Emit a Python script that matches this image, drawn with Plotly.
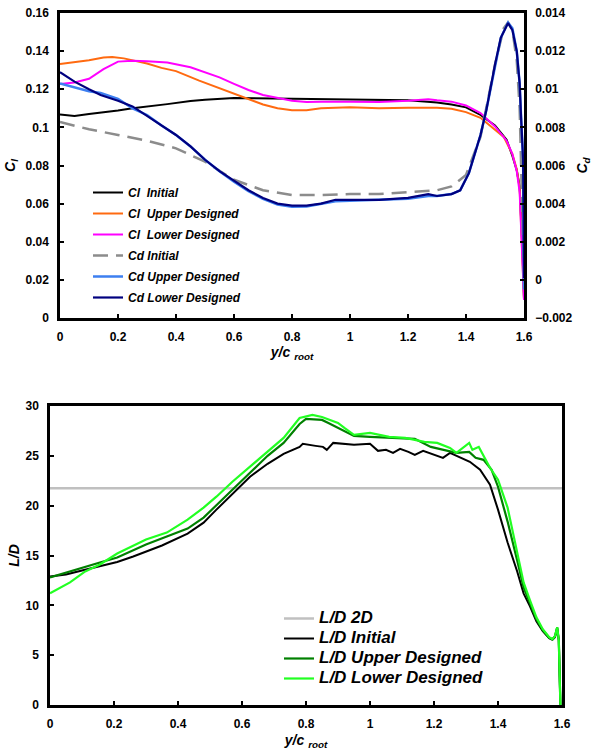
import plotly.graph_objects as go

# ---------------- spanwise lift / drag coefficients ----------------
cl_init_x = [0, 0.05, 0.1, 0.15, 0.2, 0.25, 0.3, 0.37, 0.45, 0.5, 0.6, 0.7, 0.8, 0.9, 1.0, 1.1, 1.2, 1.3,
             1.35, 1.4, 1.45, 1.5, 1.54, 1.56, 1.575, 1.585, 1.59, 1.595, 1.6]
cl_init = [0.1068, 0.1060, 0.1070, 0.1078, 0.1088, 0.1100, 0.1108, 0.1122, 0.1138, 0.1145, 0.1154, 0.1152,
           0.1150, 0.1148, 0.1147, 0.1145, 0.1142, 0.1130, 0.1120, 0.1105, 0.1065, 0.1010, 0.0935, 0.0850,
           0.0775, 0.0690, 0.0550, 0.0350, 0.0100]

cl_upper_x = [0, 0.05, 0.1, 0.15, 0.18, 0.22, 0.3, 0.35, 0.4, 0.48, 0.55, 0.6, 0.65, 0.7, 0.75, 0.8, 0.85,
              0.9, 1.0, 1.1, 1.2, 1.3, 1.35, 1.4, 1.45, 1.5, 1.53, 1.56, 1.575, 1.585, 1.59, 1.595, 1.6]
cl_upper = [0.1332, 0.1340, 0.1352, 0.1366, 0.1369, 0.1362, 0.1335, 0.1312, 0.1295, 0.1245, 0.1205, 0.1175,
            0.1145, 0.1120, 0.1100, 0.1090, 0.1090, 0.1100, 0.1105, 0.1100, 0.1103, 0.1103, 0.1098, 0.1080,
            0.1050, 0.0990, 0.0950, 0.0860, 0.0780, 0.0680, 0.0500, 0.0300, 0.0100]

cl_lower_x = [0, 0.05, 0.1, 0.15, 0.2, 0.25, 0.3, 0.37, 0.45, 0.5, 0.55, 0.6, 0.65, 0.7, 0.75, 0.8, 0.85,
              0.9, 1.0, 1.1, 1.2, 1.27, 1.3, 1.35, 1.4, 1.45, 1.5, 1.54, 1.56, 1.575, 1.585, 1.59, 1.595, 1.6]
cl_lower = [0.1227, 0.1235, 0.1255, 0.1305, 0.1345, 0.1350, 0.1347, 0.1340, 0.1315, 0.1290, 0.1262, 0.1228,
            0.1196, 0.1170, 0.1155, 0.1140, 0.1133, 0.1135, 0.1135, 0.1133, 0.1140, 0.1148, 0.1142, 0.1135,
            0.1115, 0.1075, 0.1005, 0.0930, 0.0860, 0.0770, 0.0660, 0.0450, 0.0250, 0.0094]

cd_init_x = [0, 0.05, 0.1, 0.2, 0.3, 0.4, 0.5, 0.6, 0.7, 0.8, 0.9, 1.0, 1.1, 1.2, 1.3, 1.35, 1.4, 1.45,
             1.5, 1.53, 1.545, 1.56, 1.575, 1.585, 1.59, 1.6]
cd_init = [0.00828, 0.00810, 0.00790, 0.00760, 0.00730, 0.00690, 0.00620, 0.00525, 0.00470, 0.00445,
           0.00445, 0.00450, 0.00450, 0.00460, 0.00470, 0.00490, 0.00550, 0.00750, 0.01130, 0.01320,
           0.01350, 0.01310, 0.01150, 0.00900, 0.00600, 0.00000]

cd_x = [0, 0.05, 0.1, 0.14, 0.2, 0.25, 0.3, 0.35, 0.4, 0.45, 0.5, 0.55, 0.6, 0.65, 0.7, 0.75, 0.8, 0.85,
        0.9, 0.95, 1.0, 1.1, 1.2, 1.27, 1.3, 1.35, 1.38, 1.41, 1.45, 1.47, 1.5, 1.52, 1.545, 1.56, 1.575,
        1.585, 1.59, 1.597, 1.6]
cd_upper = [0.01030, 0.01010, 0.00990, 0.00980, 0.00950, 0.00900, 0.00865, 0.00810, 0.00760, 0.00700,
            0.00630, 0.00570, 0.00515, 0.00465, 0.00425, 0.00395, 0.00383, 0.00385, 0.00398, 0.00412,
            0.00415, 0.00418, 0.00425, 0.00440, 0.00440, 0.00450, 0.00470, 0.00560, 0.00760, 0.00890,
            0.01130, 0.01270, 0.01350, 0.01320, 0.01200, 0.01030, 0.00850, 0.00630, -0.00050]
cd_lower = [0.01090, 0.01040, 0.01000, 0.00970, 0.00940, 0.00910, 0.00860, 0.00810, 0.00760, 0.00700,
            0.00630, 0.00570, 0.00520, 0.00470, 0.00430, 0.00400, 0.00390, 0.00390, 0.00400, 0.00420,
            0.00420, 0.00420, 0.00430, 0.00450, 0.00440, 0.00450, 0.00470, 0.00560, 0.00760, 0.00890,
            0.01130, 0.01270, 0.01347, 0.01310, 0.01200, 0.01030, 0.00850, 0.00630, 0.00010]

# ---------------- spanwise lift-to-drag ratio ----------------
ld_2d_x = [0, 1.6]
ld_2d = [21.75, 21.75]

ld_init_x = [0, 0.05, 0.1, 0.156, 0.21, 0.26, 0.3, 0.35, 0.43, 0.48, 0.52, 0.57, 0.625, 0.68, 0.73, 0.78,
             0.79, 0.83, 0.853, 0.865, 0.885, 0.95, 1.0, 1.025, 1.05, 1.072, 1.094, 1.12, 1.14, 1.166, 1.2,
             1.228, 1.25, 1.28, 1.312, 1.344, 1.375, 1.4, 1.43, 1.46, 1.48, 1.5, 1.52, 1.54, 1.56, 1.57,
             1.578, 1.585, 1.59, 1.595]
ld_init = [12.9, 13.1, 13.5, 13.95, 14.35, 14.9, 15.4, 16.0, 17.2, 18.3, 19.6, 21.2, 22.9, 24.2, 25.2, 25.9,
           26.2, 26.0, 25.9, 25.6, 26.3, 26.1, 26.2, 25.5, 25.6, 25.3, 25.7, 25.4, 25.1, 25.5, 25.1,
           24.8, 25.3, 24.9, 24.4, 23.6, 22.1, 19.6, 16.3, 13.4, 11.2, 9.9, 8.4, 7.4, 6.7, 6.55,
           6.8, 7.7, 6.5, 0.0]

ld_upper_x = [0, 0.05, 0.1, 0.156, 0.21, 0.3, 0.365, 0.43, 0.48, 0.52, 0.57, 0.625, 0.68, 0.73, 0.78, 0.8,
              0.83, 0.85, 0.87, 0.9, 0.95, 1.0, 1.06, 1.1, 1.14, 1.19, 1.23, 1.27, 1.31, 1.33, 1.355, 1.38,
              1.4, 1.43, 1.46, 1.48, 1.5, 1.52, 1.54, 1.56, 1.57, 1.578, 1.585, 1.59, 1.595]
ld_upper = [12.8, 13.3, 13.8, 14.3, 14.8, 16.1, 16.9, 17.7, 18.8, 20.0, 21.6, 23.3, 25.0, 26.3, 28.2, 28.7,
            28.6, 28.6, 28.3, 27.8, 27.0, 26.9, 26.8, 26.8, 26.7, 25.9, 25.6, 25.3, 25.4, 24.8, 24.6, 23.6,
            21.9, 18.4, 14.5, 11.8, 10.2, 8.6, 7.5, 6.75, 6.6, 6.9, 7.8, 6.5, 0.0]

ld_lower_x = [0, 0.0625, 0.11, 0.156, 0.21, 0.3, 0.365, 0.43, 0.48, 0.52, 0.57, 0.625, 0.68, 0.73, 0.78,
              0.82, 0.85, 0.9, 0.92, 0.95, 1.0, 1.06, 1.11, 1.17, 1.21, 1.25, 1.27, 1.31, 1.32, 1.34, 1.375,
              1.4, 1.43, 1.46, 1.48, 1.5, 1.52, 1.54, 1.56, 1.57, 1.578, 1.585, 1.59, 1.595]
ld_lower = [11.2, 12.3, 13.4, 14.1, 15.2, 16.6, 17.3, 18.6, 19.8, 20.9, 22.4, 23.9, 25.4, 26.8, 28.8,
            29.1, 28.9, 28.3, 27.8, 27.1, 27.3, 26.9, 26.8, 26.4, 26.3, 25.8, 25.3, 26.3, 25.6, 25.9, 23.8,
            22.6, 19.8, 15.2, 12.3, 10.5, 8.8, 7.6, 6.8, 6.6, 6.9, 7.8, 6.5, 0.0]

FONT = "Liberation Sans, Arial, sans-serif"

fig = go.Figure()

def add(x, y, name, color, xa, ya, legend, width=2.0, dash="solid", text_px=None):
    label = name if text_px is None else f'<span style="font-size:{text_px}px">{name}</span>'
    fig.add_trace(go.Scatter(x=x, y=y, name=label, mode="lines", xaxis=xa, yaxis=ya, legend=legend,
                             line=dict(color=color, width=width, dash=dash),
                             legendgroup=name))

add(cl_init_x, cl_init, "Cl  Initial", "#000000", "x", "y", "legend")
add(cl_upper_x, cl_upper, "Cl  Upper Designed", "#FF6A10", "x", "y", "legend")
add(cl_lower_x, cl_lower, "Cl  Lower Designed", "#FF00FF", "x", "y", "legend")
add(cd_init_x, cd_init, "Cd Initial", "#8C8C8C", "x", "y2", "legend", width=2.5, dash="15px,8px")
add(cd_x, cd_upper, "Cd Upper Designed", "#3D7FF0", "x", "y2", "legend", width=2.5)
add(cd_x, cd_lower, "Cd Lower Designed", "#00007F", "x", "y2", "legend", width=2.2)

# the L/D legend uses larger lettering on tighter rows
add(ld_2d_x, ld_2d, "L/D 2D", "#C0C0C0", "x2", "y3", "legend2", width=2.5, text_px=17)
add(ld_init_x, ld_init, "L/D Initial", "#000000", "x2", "y3", "legend2", text_px=17)
add(ld_upper_x, ld_upper, "L/D Upper Designed", "#008000", "x2", "y3", "legend2", width=2.2, text_px=17)
add(ld_lower_x, ld_lower, "L/D Lower Designed", "#22FF22", "x2", "y3", "legend2", width=2.2, text_px=17)

W, H = 592, 753
tick_font = dict(family=FONT, size=12, color="#000000", weight="bold")
title_font = dict(family=FONT, size=14, color="#000000", weight="bold", style="italic")

common = dict(showgrid=False, zeroline=False, showline=True, linecolor="#000000", linewidth=2.5,
              ticks="inside", ticklen=4, tickwidth=1.5, tickcolor="#000000", tickfont=tick_font,
              automargin=False)

fig.update_layout(
    width=W, height=H, margin=dict(l=0, r=0, t=0, b=0),
    paper_bgcolor="#FFFFFF", plot_bgcolor="#FFFFFF",
    font=dict(family=FONT, color="#000000"),
    xaxis=dict(domain=[60 / W, 524 / W], range=[0, 1.6], dtick=0.2, anchor="y", mirror=True,
               ticklabelstandoff=6,
               title=dict(text="y/c <sub>root</sub>", font=title_font, standoff=5), **common),
    yaxis=dict(domain=[1 - 318 / H, 1 - 13 / H], range=[0, 0.16], dtick=0.02, anchor="x",
               ticklabelstandoff=6,
               title=dict(text="C<sub>l</sub>", font=title_font, standoff=7), **common),
    yaxis2=dict(domain=[1 - 318 / H, 1 - 13 / H], range=[-0.002, 0.014], dtick=0.002, anchor="x",
                overlaying="y", side="right", ticklabelstandoff=6,
                title=dict(text="C<sub>d</sub>", font=title_font, standoff=8), **common),
    xaxis2=dict(domain=[50 / W, 562 / W], range=[0, 1.6], dtick=0.2, anchor="y3", mirror=True,
                ticklabelstandoff=6,
                title=dict(text="y/c <sub>root</sub>", font=title_font, standoff=6), **common),
    yaxis3=dict(domain=[1 - 705 / H, 1 - 406 / H], range=[0, 30], dtick=5, anchor="x2", mirror=True,
                ticklabelstandoff=6,
                title=dict(text="L/D", font=title_font, standoff=3), **common),
    legend=dict(x=88 / W, y=1 - 178 / H, xanchor="left", yanchor="top", bgcolor="rgba(0,0,0,0)",
                font=dict(family=FONT, size=12, color="#000000", weight="bold", style="italic"),
                tracegroupgap=2, traceorder="grouped"),
    legend2=dict(x=279 / W, y=1 - 604 / H, xanchor="left", yanchor="top", bgcolor="rgba(0,0,0,0)",
                 font=dict(family=FONT, size=12, color="#000000", weight="bold", style="italic"),
                 tracegroupgap=1, traceorder="grouped"),
)

fig.write_html("out.html")
